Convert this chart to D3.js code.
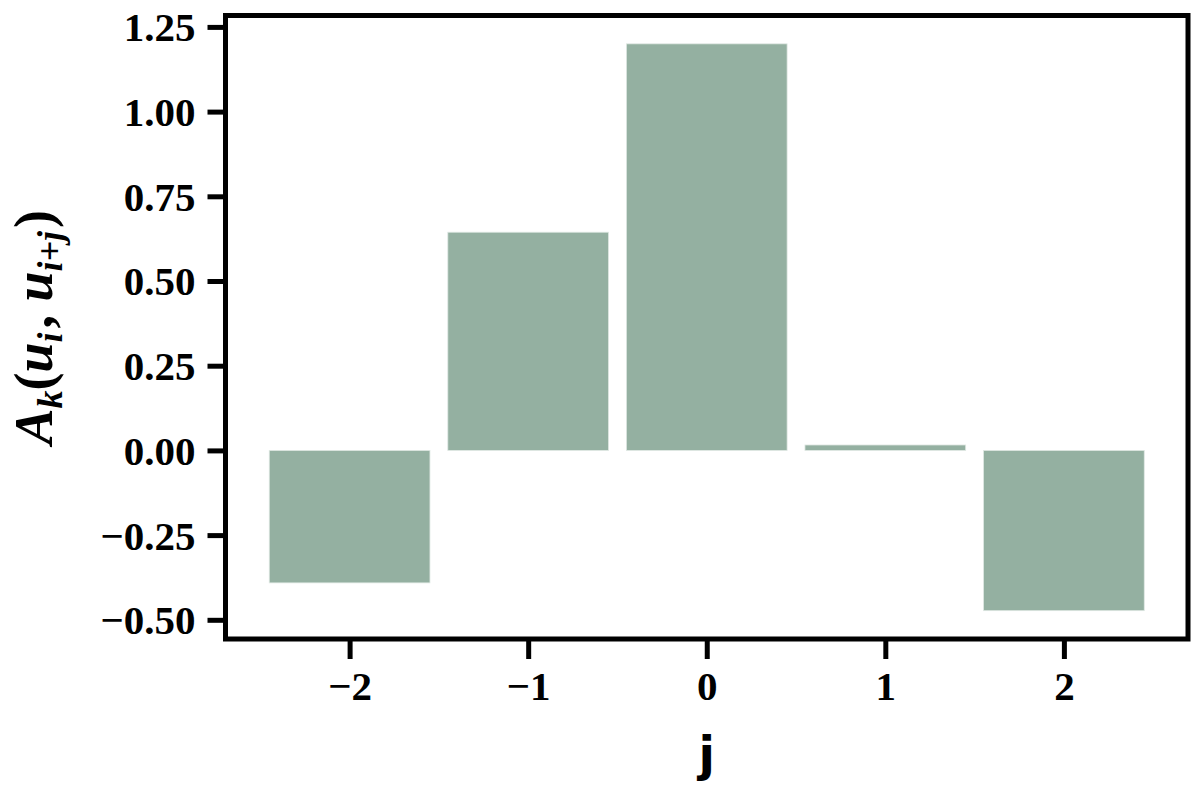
<!DOCTYPE html>
<html>
<head>
<meta charset="utf-8">
<script src="https://cdn.jsdelivr.net/npm/d3@7"></script>
<style>
	body { margin: 0; background: #fff; }
	text { font-family: "Liberation Serif", "DejaVu Serif", serif; font-weight: bold; fill: #000; }
</style>
</head>
<body>
<svg width="1200" height="794"></svg>
<script>
var svg = d3.select("svg"),
	width = +svg.attr("width"),
	height = +svg.attr("height")

// data
const offsets = [-2, -1, 0, 1, 2]
const values = [-0.391, 0.644, 1.2, 0.016, -0.473]
const yTicks = [-0.5, -0.25, 0, 0.25, 0.5, 0.75, 1.0, 1.25]
const xTicks = [-2, -1, 0, 1, 2]

const barWidth = 0.9
const barColor = "#94b0a1"

const plotLeft = 225.5, plotRight = 1188, plotTop = 15.5, plotBottom = 639

// matplotlib style 5% margins
const xmin = d3.min(offsets) - barWidth / 2, xmax = d3.max(offsets) + barWidth / 2
const xpad = (xmax - xmin) * 0.05
const ymin = Math.min(0, d3.min(values)), ymax = Math.max(0, d3.max(values))
const ypad = (ymax - ymin) * 0.05

var x = d3.scaleLinear().domain([xmin - xpad, xmax + xpad]).range([plotLeft, plotRight])
var y = d3.scaleLinear().domain([ymin - ypad, ymax + ypad]).range([plotBottom, plotTop])

const fmtMinus = (s) => s.replace("-", "\u2212")

// bars
svg.append("g")
	.attr("name", "bars")
	.selectAll("rect")
	.data(offsets.map((o, i) => ({ o, v: values[i] })))
	.enter()
	.append("rect")
	.attr("x", (d) => x(d.o - barWidth / 2))
	.attr("width", (d) => x(d.o + barWidth / 2) - x(d.o - barWidth / 2))
	.attr("y", (d) => y(Math.max(0, d.v)))
	.attr("height", (d) => Math.abs(y(d.v) - y(0)))
	.attr("fill", barColor)
	.attr("stroke", "#dfe8e3")
	.attr("stroke-width", 0.8)

// y axis
var yAxis = d3.axisLeft(y)
	.tickValues(yTicks)
	.tickSize(18)
	.tickPadding(12)
	.tickFormat((d) => fmtMinus(d3.format(".2f")(d)))
var gy = svg.append("g").attr("transform", `translate(${plotLeft},0)`).call(yAxis)

// x axis
var xAxis = d3.axisBottom(x)
	.tickValues(xTicks)
	.tickSize(20)
	.tickPadding(10)
	.tickFormat((d) => fmtMinus(d3.format("d")(d)))
var gx = svg.append("g").attr("transform", `translate(0,${plotBottom})`).call(xAxis)

;[gx, gy].forEach((g) => {
	g.select(".domain").remove()
	g.selectAll(".tick line").attr("stroke", "#000").attr("stroke-width", 5)
	g.selectAll(".tick text")
		.attr("font-family", null)
		.style("font-size", "41px")
		.attr("fill", "#000")
})
gy.selectAll(".tick text").attr("dy", "0.34em")
gx.selectAll(".tick text").attr("dy", "0.76em")

// frame
svg.append("rect")
	.attr("x", plotLeft)
	.attr("y", plotTop)
	.attr("width", plotRight - plotLeft)
	.attr("height", plotBottom - plotTop)
	.attr("fill", "none")
	.attr("stroke", "#000")
	.attr("stroke-width", 5)

// x label
svg.append("text")
	.attr("x", (plotLeft + plotRight) / 2)
	.attr("y", 771)
	.attr("text-anchor", "middle")
	.style("font-family", "'DejaVu Sans', sans-serif")
	.style("font-size", "48px")
	.text("j")

// y label A_k(u_i, u_{i+j})
var yl = svg.append("text")
	.attr("transform", `translate(52,${(plotTop + plotBottom) / 2}) rotate(-90)`)
	.attr("text-anchor", "middle")
	.style("font-size", "54px")
	.style("font-style", "italic")
const sub = (t) => yl.append("tspan").attr("dy", 10).style("font-size", "36px").text(t)
const main = (t, up) => yl.append("tspan").attr("dy", up ? -10 : 0).style("font-style", "italic").text(t)
const paren = (t, up, dx) => yl.append("tspan").attr("dy", up ? -10 : 0).attr("dx", dx || 0).style("font-style", "normal").text(t)
main("A")
sub("k")
paren("(", true)
main("u")
sub("i")
paren(", ", true, 4)
main("u")
sub("i+j")
paren(")", true, 3)
</script>
</body>
</html>
